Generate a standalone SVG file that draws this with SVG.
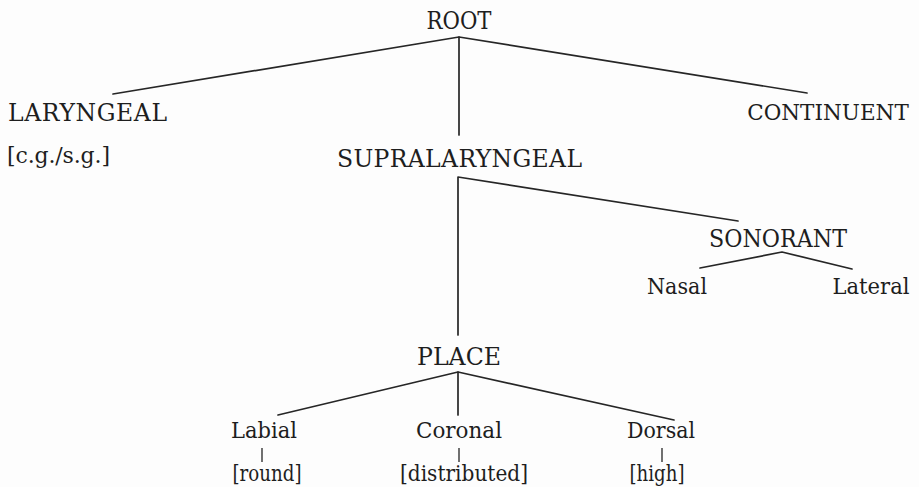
<svg xmlns="http://www.w3.org/2000/svg" width="919" height="487" viewBox="0 0 919 487">
<style>
  text { font-family: "DejaVu Serif", "Liberation Serif", serif; font-size: 22px; fill: #1e1e1e; }
  .c { font-size: 23.5px; }
  .m { text-anchor: middle; }
  .edge { stroke: #262626; stroke-width: 1.7; fill: none; stroke-linecap: round; stroke-linejoin: round; }
  .tick { stroke: #262626; stroke-width: 1.3; }
</style>
<rect width="919" height="487" fill="#fdfdfd"/>
<g id="connectors">
  <path class="edge" d="M113,94 L459,37 L807,93"/>
  <path class="edge" d="M459,37 L459,135"/>
  <path class="edge" d="M458,335 L458,177 L738,221"/>
  <path class="edge" d="M700,268 L782,252 L852,269"/>
  <path class="edge" d="M278,415 L458,372 L674,420"/>
  <path class="edge" d="M458,372 L458,415"/>
  <line class="tick" x1="262" y1="448" x2="262" y2="462"/>
  <line class="tick" x1="459" y1="448" x2="459" y2="462"/>
  <line class="tick" x1="662" y1="448" x2="662" y2="462"/>
</g>
<g id="root"><text class="c m" x="459" y="29" textLength="65" lengthAdjust="spacingAndGlyphs">ROOT</text></g>
<g id="laryngeal"><text class="c" x="8" y="121" textLength="159">LARYNGEAL</text></g>
<g id="cg-sg"><text x="7" y="163" textLength="103">[c.g./s.g.]</text></g>
<g id="continuent"><text class="m" x="828" y="120" style="font-size:21.5px">CONTINUENT</text></g>
<g id="supralaryngeal"><text class="c m" x="459.5" y="167" textLength="245">SUPRALARYNGEAL</text></g>
<g id="sonorant"><text class="c m" x="778" y="247" textLength="138" lengthAdjust="spacingAndGlyphs">SONORANT</text></g>
<g id="nasal"><text class="m" x="677" y="294" textLength="60" lengthAdjust="spacingAndGlyphs">Nasal</text></g>
<g id="lateral"><text class="m" x="871" y="294" textLength="77" lengthAdjust="spacingAndGlyphs">Lateral</text></g>
<g id="place"><text class="c m" x="459" y="365" textLength="84" lengthAdjust="spacingAndGlyphs">PLACE</text></g>
<g id="labial"><text class="m" x="264" y="438" textLength="66" lengthAdjust="spacingAndGlyphs">Labial</text></g>
<g id="coronal"><text class="m" x="459" y="438" textLength="86" lengthAdjust="spacingAndGlyphs">Coronal</text></g>
<g id="dorsal"><text class="m" x="661" y="438" textLength="68" lengthAdjust="spacingAndGlyphs">Dorsal</text></g>
<g id="round"><text class="m" x="267" y="481" textLength="69" lengthAdjust="spacingAndGlyphs">[round]</text></g>
<g id="distributed"><text class="m" x="464" y="481" textLength="128" lengthAdjust="spacingAndGlyphs">[distributed]</text></g>
<g id="high"><text class="m" x="657" y="481" textLength="55" lengthAdjust="spacingAndGlyphs">[high]</text></g>
</svg>
